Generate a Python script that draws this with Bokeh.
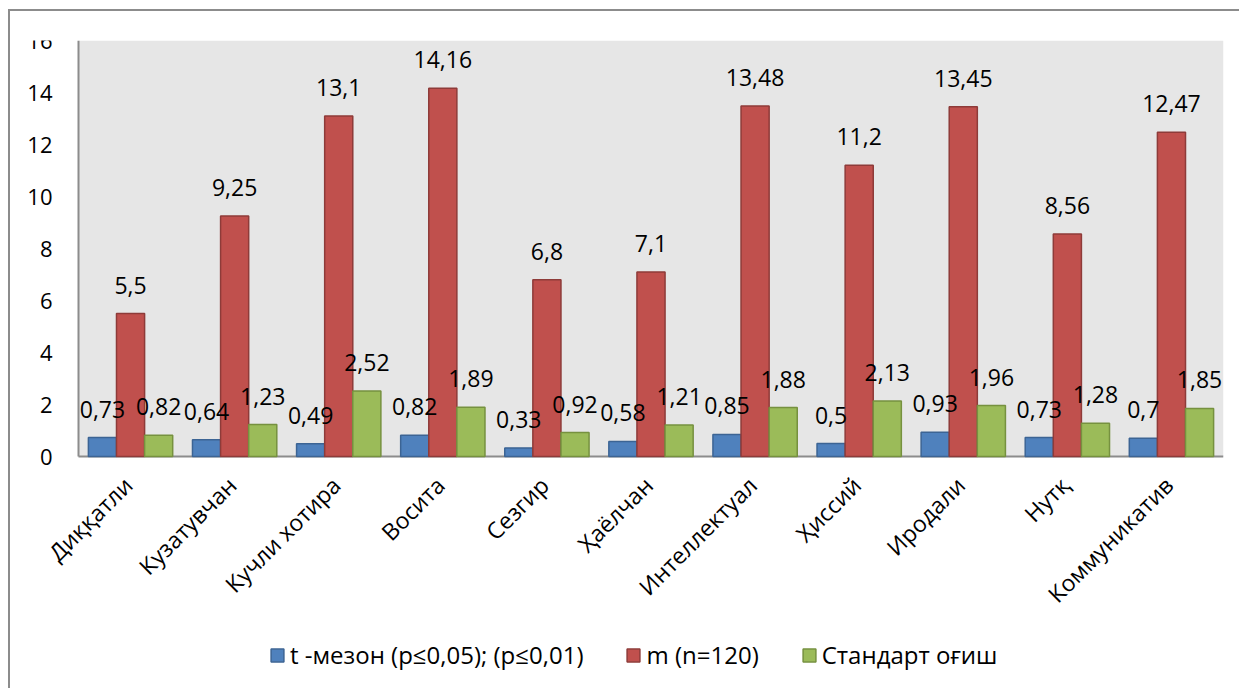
import math
from bokeh.plotting import figure
from bokeh.models import (ColumnDataSource, Legend, LegendItem, LabelSet,
                          Range1d, BoxAnnotation)
from bokeh.core.properties import value
from bokeh.transform import dodge
from bokeh.embed import file_html
from bokeh.resources import INLINE

categories = ["Диққатли", "Кузатувчан", "Кучли хотира", "Восита", "Сезгир",
              "Ҳаёлчан", "Интеллектуал", "Ҳиссий", "Иродали", "Нутқ",
              "Коммуникатив"]
t_values = [0.73, 0.64, 0.49, 0.82, 0.33, 0.58, 0.85, 0.5, 0.93, 0.73, 0.7]
m_values = [5.5, 9.25, 13.1, 14.16, 6.8, 7.1, 13.48, 11.2, 13.45, 8.56, 12.47]
sd_values = [0.82, 1.23, 2.52, 1.89, 0.92, 1.21, 1.88, 2.13, 1.96, 1.28, 1.85]
series_names = ["t -мезон (p≤0,05); (p≤0,01)", "m (n=120)", "Стандарт оғиш"]
y_ticks = [0, 2, 4, 6, 8, 10, 12, 14, 16]
y_axis_min, y_axis_max = 0, 16

FONT = "Open Sans"
fills = ["#4F81BD", "#C0504D", "#9BBB59"]
lines = ["#3C6494", "#8E3B39", "#76913F"]
GRAY = "#8C8C8C"


def fmt(v):
    return ("%g" % v).replace(".", ",")


n = len(categories)
x_centers = [i + 0.5 for i in range(n)]   # category slot centres

src = ColumnDataSource(dict(
    x=x_centers, cat=categories,
    t=t_values, m=m_values, sd=sd_values,
    t_lab=[fmt(v) for v in t_values],
    m_lab=[fmt(v) for v in m_values],
    sd_lab=[fmt(v) for v in sd_values],
))
ytick_src = ColumnDataSource(dict(y=y_ticks, text=[str(v) for v in y_ticks]))

# layout in pixels: category area 1145 px wide, value area 416 px tall;
# extra room left of it for the value labels, below it for category
# labels and the legend (all drawn inside the frame so nothing is clipped)
cat_px = 1145
val_px = 416
left_px = 66
below_px = 232
unit_px = cat_px / n
px_per_unit = val_px / (y_axis_max - y_axis_min)

p = figure(x_range=Range1d(-left_px / unit_px, n),
           y_range=Range1d(y_axis_min - below_px / px_per_unit, y_axis_max),
           frame_width=cat_px + left_px, frame_height=val_px + below_px,
           output_backend="svg", toolbar_location=None,
           x_axis_location=None, y_axis_location=None,
           min_border_left=2, min_border_top=29, min_border_right=16,
           min_border_bottom=0)
p.margin = (9, 0, 0, 8)
p.styles = {"border-top": "2px solid " + GRAY,
            "border-left": "2px solid " + GRAY}
p.background_fill_color = "white"
p.border_fill_color = "white"
p.outline_line_color = None
p.xgrid.grid_line_color = None
p.ygrid.grid_line_color = None

# grey plot-area fill
p.add_layout(BoxAnnotation(left=0, right=n, bottom=y_axis_min,
                           top=y_axis_max, fill_color="#E6E6E6",
                           fill_alpha=1, line_color=None, level="underlay"))

# axis lines (value axis on the left, category axis along zero)
p.segment(x0=[0, 0], y0=[y_axis_min, y_axis_min], x1=[0, n],
          y1=[y_axis_max, y_axis_min], line_color=GRAY, line_width=2)

bw = 0.27
keys = ["t", "m", "sd"]
offs = [-bw, 0, bw]
renderers = []
for k, o, fc, lc in zip(keys, offs, fills, lines):
    r = p.vbar(x=dodge("x", o), top=k, width=bw, source=src,
               fill_color=fc, line_color=lc, line_width=1.5)
    renderers.append(r)
    p.add_layout(LabelSet(x=dodge("x", o), y=k, text=k + "_lab",
                          source=src, y_offset=20, text_align="center",
                          text_baseline="alphabetic", text_font=value(FONT),
                          text_font_size="23px", text_color="black"))

# value-axis tick labels
p.add_layout(LabelSet(x=0, y="y", text="text", source=ytick_src,
                      x_offset=-26, text_align="right",
                      text_baseline="middle", text_font=value(FONT),
                      text_font_size="22px", text_color="black"))

# category labels, rotated 45 degrees
p.add_layout(LabelSet(x="x", y=y_axis_min, text="cat", source=src,
                      angle=math.pi / 4, text_align="right",
                      text_baseline="top", x_offset=-14, y_offset=-13,
                      text_font=value(FONT), text_font_size="23px",
                      text_color="black"))

legend = Legend(items=[LegendItem(label=nm, renderers=[r])
                       for nm, r in zip(series_names, renderers)],
                orientation="horizontal", location=(191 + left_px, 17),
                label_text_font=FONT, label_text_font_size="24px",
                label_text_color="black", glyph_width=16, glyph_height=16,
                label_standoff=5, spacing=42, border_line_color=None,
                background_fill_alpha=0, margin=0, padding=0)
p.add_layout(legend, "center")

open("out.html", "w").write(file_html(p, INLINE))
